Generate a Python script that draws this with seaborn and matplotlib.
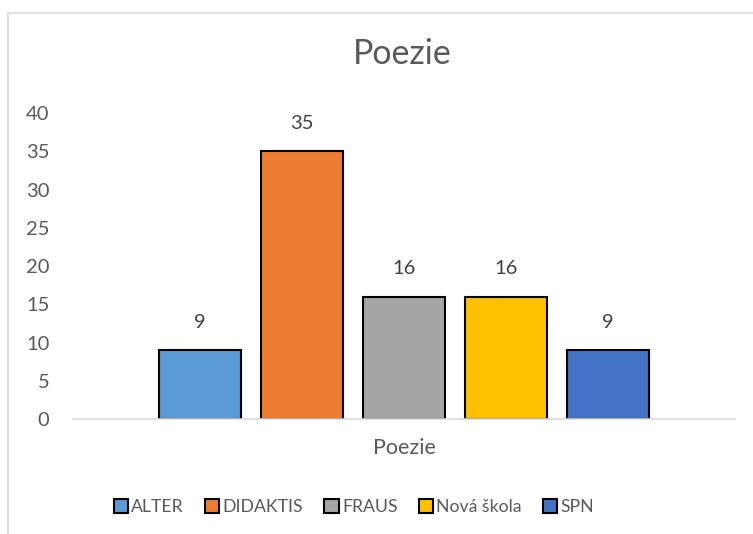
import pandas as pd
import matplotlib
matplotlib.use("Agg")
import matplotlib.pyplot as plt
import seaborn as sns
from matplotlib.patches import Rectangle

# ===========================
# Data
# ===========================

category = ["Poezie"]
publishers = ["ALTER", "DIDAKTIS", "FRAUS", "Nová škola", "SPN"]
counts = [9, 35, 16, 16, 9]
colors = ["#5B9BD5", "#ED7D31", "#A5A5A5", "#FFC000", "#4472C4"]
y_ticks = [0, 5, 10, 15, 20, 25, 30, 35, 40]

df = pd.DataFrame({
    "kategorie": category * len(publishers),
    "nakladatel": publishers,
    "pocet": counts,
})

# ===========================
# Chart Style
# ===========================

sns.set_style("white")
plt.rcParams["font.family"] = ["Lato", "DejaVu Sans"]

fig = plt.figure(figsize=(7.53, 5.34), dpi=100)
ax = fig.add_axes([73 / 753, 115 / 534, 662 / 753, 306 / 534])

sns.barplot(
    data=df,
    x="kategorie",
    y="pocet",
    hue="nakladatel",
    hue_order=publishers,
    palette=colors,
    width=0.77,
    gap=0.2,
    edgecolor="black",
    linewidth=1.5,
    saturation=1,
    ax=ax,
)

for c in ax.containers:
    ax.bar_label(c, padding=14, fontsize=14.5, color="#404040")

ax.set_xlim(-0.5, 0.5)
ax.set_ylim(0, 40)
ax.set_yticks(y_ticks)
ax.set_xlabel("")
ax.set_ylabel("")
ax.tick_params(axis="y", length=0, pad=17, labelsize=14.5, labelcolor="#595959")
ax.tick_params(axis="x", length=0, pad=14, labelsize=15.5, labelcolor="#595959")

for s in ["top", "right", "left"]:
    ax.spines[s].set_visible(False)
ax.spines["bottom"].set_color("#D9D9D9")
ax.spines["bottom"].set_linewidth(1.2)

fig.text(402 / 753, 1 - 54 / 534, "Poezie", ha="center", va="center",
         fontsize=24.5, color="#595959")

handles, labels = ax.get_legend_handles_labels()
ax.legend(
    handles, labels,
    loc="center",
    bbox_to_anchor=(354 / 753, 1 - 507 / 534),
    bbox_transform=fig.transFigure,
    ncol=5,
    frameon=False,
    fontsize=12.7,
    handlelength=0.8,
    handleheight=0.8,
    handletextpad=0.2,
    columnspacing=1.2,
    labelcolor="#595959",
)

# chart border
fig.patches.append(Rectangle((8 / 753, -0.1), 1.5, 1.1 - 13 / 534,
                             transform=fig.transFigure, fill=False,
                             edgecolor="#D9D9D9", linewidth=1.2))

fig.savefig("out.png", dpi=100)
plt.close()
